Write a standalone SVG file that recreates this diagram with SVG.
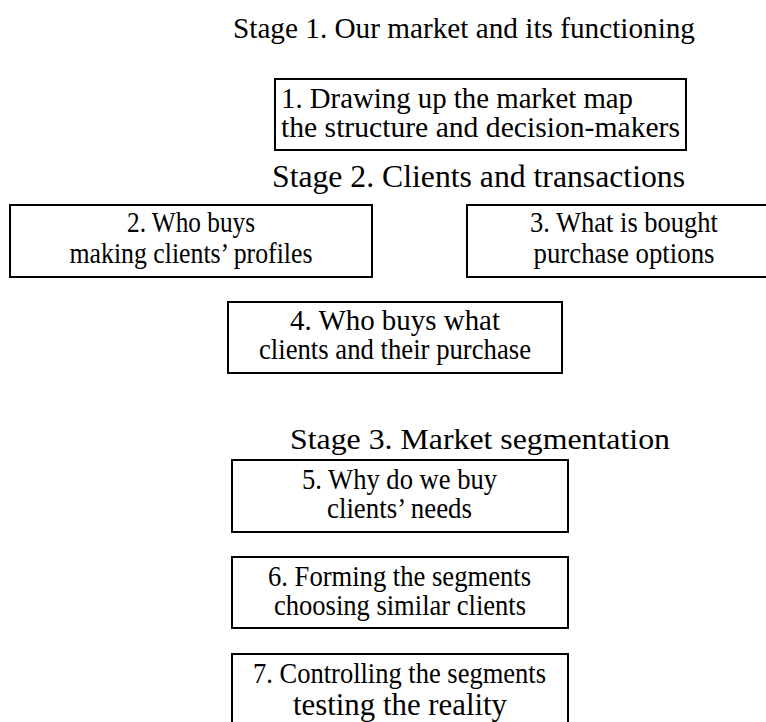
<svg xmlns="http://www.w3.org/2000/svg" width="766" height="722" viewBox="0 0 766 722">
<style>
text{font-family:"Liberation Serif","Times New Roman",serif;fill:#000}
.t{font-size:30px}
.b{font-size:29px}
.c{font-size:30px;text-anchor:middle}
.box{fill:#fff;stroke:#000;stroke-width:2}
</style>
<rect width="766" height="722" fill="#fff"/>
<g id="stage1"><text class="t" x="233" y="38" textLength="462" lengthAdjust="spacingAndGlyphs">Stage 1. Our market and its functioning</text></g>
<g id="node1">
<rect class="box" x="275" y="79" width="411" height="71"/>
<text class="b" x="281" y="108" textLength="352" lengthAdjust="spacingAndGlyphs">1. Drawing up the market map</text>
<text class="b" x="281" y="137" textLength="399" lengthAdjust="spacingAndGlyphs">the structure and decision-makers</text>
</g>
<g id="stage2"><text x="272" y="187" font-size="32" textLength="413" lengthAdjust="spacingAndGlyphs">Stage 2. Clients and transactions</text></g>
<g id="node2">
<rect class="box" x="10" y="205" width="362" height="72"/>
<text class="c" x="191" y="232" textLength="128" lengthAdjust="spacingAndGlyphs">2. Who buys</text>
<text class="c" x="191" y="263" textLength="243" lengthAdjust="spacingAndGlyphs">making clients’ profiles</text>
</g>
<g id="node3">
<rect class="box" x="467" y="205" width="320" height="72"/>
<text class="c" x="624" y="232" textLength="188" lengthAdjust="spacingAndGlyphs">3. What is bought</text>
<text class="c" x="624" y="263" textLength="181" lengthAdjust="spacingAndGlyphs">purchase options</text>
</g>
<g id="node4">
<rect class="box" x="228" y="302" width="334" height="71"/>
<text class="b" x="290" y="330" textLength="210" lengthAdjust="spacingAndGlyphs">4. Who buys what</text>
<text class="b" x="259" y="359" textLength="272" lengthAdjust="spacingAndGlyphs">clients and their purchase</text>
</g>
<g id="stage3"><text class="t" x="290" y="449" textLength="380" lengthAdjust="spacingAndGlyphs">Stage 3. Market segmentation</text></g>
<g id="node5">
<rect class="box" x="232" y="460" width="336" height="72"/>
<text class="b" x="302" y="489" textLength="195" lengthAdjust="spacingAndGlyphs">5. Why do we buy</text>
<text class="b" x="327" y="518" textLength="145" lengthAdjust="spacingAndGlyphs">clients’ needs</text>
</g>
<g id="node6">
<rect class="box" x="232" y="557" width="336" height="71"/>
<text class="b" x="268" y="586" textLength="263" lengthAdjust="spacingAndGlyphs">6. Forming the segments</text>
<text class="b" x="274" y="615" textLength="252" lengthAdjust="spacingAndGlyphs">choosing similar clients</text>
</g>
<g id="node7">
<rect class="box" x="232" y="654" width="336" height="80"/>
<text class="b" x="253" y="683" textLength="293" lengthAdjust="spacingAndGlyphs">7. Controlling the segments</text>
<text x="293" y="715" font-size="31" textLength="214" lengthAdjust="spacingAndGlyphs">testing the reality</text>
</g>
<g id="connectors"></g>
</svg>
